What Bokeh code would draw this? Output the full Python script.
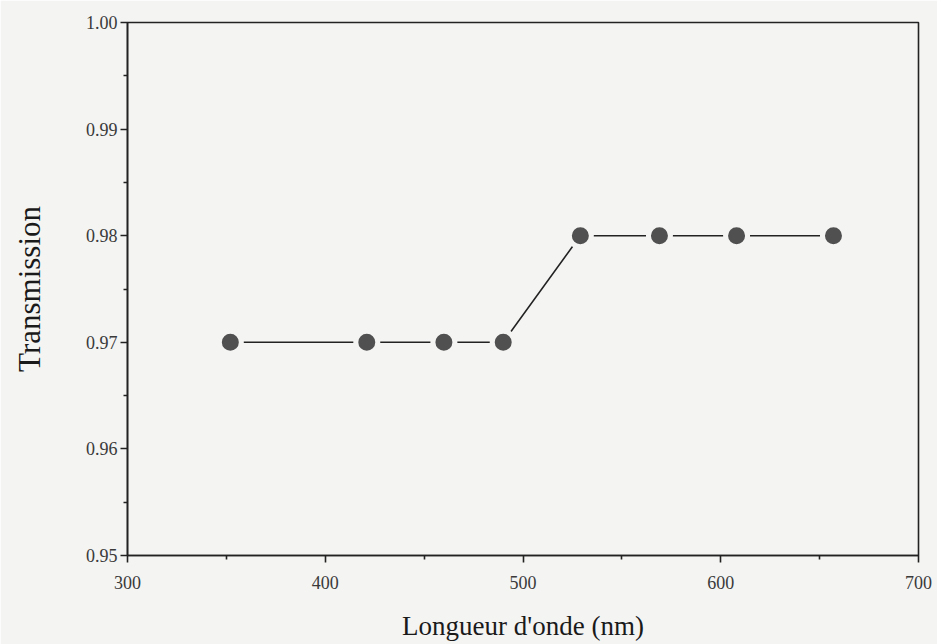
from bokeh.plotting import figure
from bokeh.models import ColumnDataSource, FixedTicker, Range1d, CustomJSTickFormatter
from bokeh.embed import file_html
from bokeh.resources import INLINE

wavelength = [352, 421, 460, 490, 529, 569, 608, 657]
transmission = [0.970, 0.970, 0.970, 0.970, 0.980, 0.980, 0.980, 0.980]
x_ticks = [300, 400, 500, 600, 700]
x_minor = [350, 450, 550, 650]
y_ticks = [0.95, 0.96, 0.97, 0.98, 0.99, 1.00]
y_minor = [0.955, 0.965, 0.975, 0.985, 0.995]
x_title = "Longueur d'onde (nm)"
y_title = "Transmission"

paper = "#f4f4f3"
serif = "Liberation Serif"

src = ColumnDataSource(data=dict(x=wavelength, y=transmission))

p = figure(width=937, height=644, output_backend="svg", toolbar_location=None,
           x_range=Range1d(300, 700), y_range=Range1d(0.95, 1.00),
           min_border_left=127, min_border_right=19, min_border_top=22, min_border_bottom=89)
p.background_fill_color = paper
p.border_fill_color = paper
p.outline_line_color = "#222222"
p.outline_line_width = 1.6
p.grid.visible = False

p.line("x", "y", source=src, line_color="#222222", line_width=1.6)
p.scatter("x", "y", source=src, size=22, fill_color="#505050",
          line_color=paper, line_width=5)

for ax in (p.xaxis[0], p.yaxis[0]):
    ax.axis_line_color = "#222222"
    ax.axis_line_width = 1.6
    ax.major_tick_line_color = "#222222"
    ax.minor_tick_line_color = "#222222"
    ax.major_tick_line_width = 1.6
    ax.minor_tick_line_width = 1.6
    ax.major_tick_out = 7
    ax.major_tick_in = 0
    ax.minor_tick_out = 4
    ax.minor_tick_in = 0
    ax.major_label_text_font = serif
    ax.major_label_text_font_size = "18px"
    ax.major_label_text_color = "#3a3a3a"
    ax.axis_label_text_font = serif
    ax.axis_label_text_font_style = "normal"
    ax.axis_label_text_color = "#1a1a1a"

p.xaxis.axis_label_text_font_size = "27px"
p.yaxis.axis_label_text_font_size = "31px"
p.xaxis.ticker = FixedTicker(ticks=x_ticks, minor_ticks=x_minor)
p.yaxis.ticker = FixedTicker(ticks=y_ticks, minor_ticks=y_minor)
p.yaxis.formatter = CustomJSTickFormatter(code="return tick.toFixed(2);")
p.xaxis.major_label_standoff = 13
p.yaxis.major_label_standoff = 3
p.xaxis.axis_label = x_title
p.yaxis.axis_label = y_title
p.xaxis.axis_label_standoff = 19
p.yaxis.axis_label_standoff = 36

open("out.html", "w").write(file_html(p, INLINE))
